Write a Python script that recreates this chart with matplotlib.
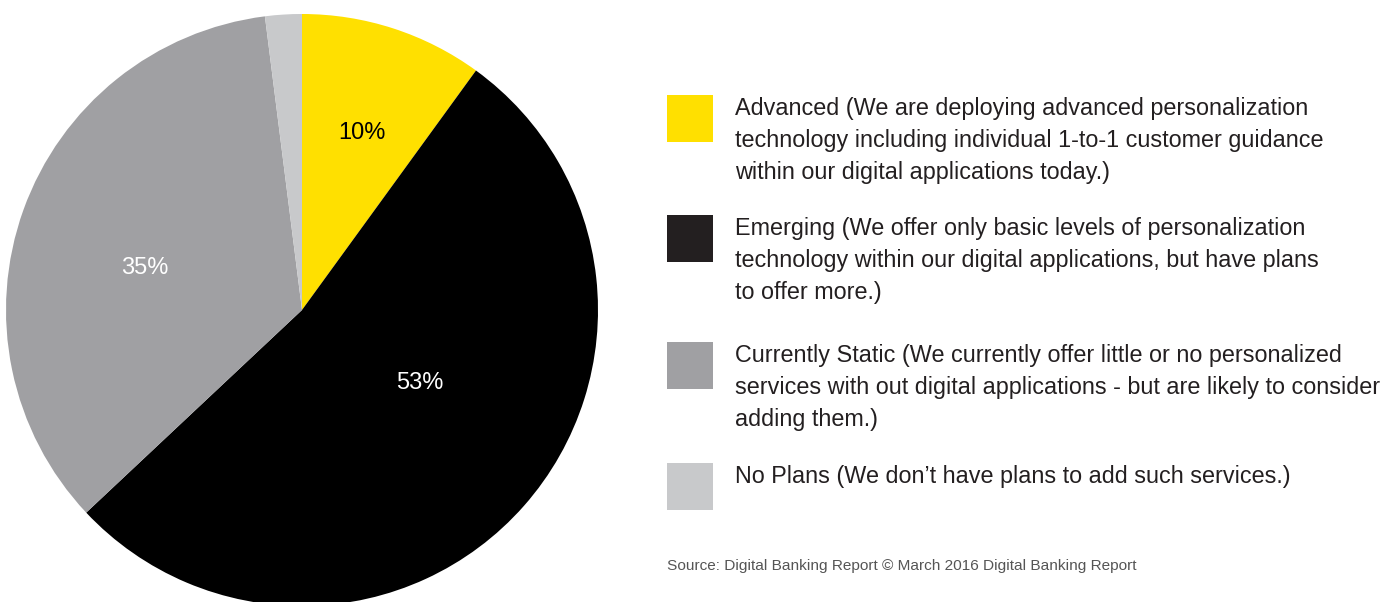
import matplotlib.pyplot as plt
from matplotlib.patches import Rectangle

# survey shares, in percent
categories = ["Advanced", "Emerging", "Currently Static", "No Plans"]
shares = [10, 53, 35, 2]
colors = ["#FFE000", "#000000", "#A0A0A3", "#C8C9CB"]
swatch_colors = ["#FFE000", "#231F20", "#A0A0A3", "#C8C9CB"]
legend_lines = [
    ["Advanced (We are deploying advanced personalization",
     "technology including individual 1-to-1 customer guidance",
     "within our digital applications today.)"],
    ["Emerging (We offer only basic levels of personalization",
     "technology within our digital applications, but have plans",
     "to offer more.)"],
    ["Currently Static (We currently offer little or no personalized",
     "services with out digital applications - but are likely to consider",
     "adding them.)"],
    ["No Plans (We don\u2019t have plans to add such services.)"],
]
source = "Source: Digital Banking Report \u00a9 March 2016 Digital Banking Report"

W, H = 1389, 602
plt.rcParams['font.family'] = ['Liberation Sans', 'DejaVu Sans']

fig = plt.figure(figsize=(W / 100, H / 100), dpi=100)
ax = fig.add_axes([0, 0, 1, 1])

# pie drawn in pixel space (y flipped, so counterclock=True runs clockwise on screen)
cx, cy, r = 302, 310, 296
ax.pie(shares, colors=colors, startangle=-90, counterclock=True,
       center=(cx, cy), radius=r, frame=True,
       wedgeprops=dict(linewidth=0))
ax.set_xlim(0, W)
ax.set_ylim(H, 0)
ax.axis("off")

# percentage labels
label_pos = [(362, 133, "#000000"), (420, 383, "#FFFFFF"), (145, 268, "#FFFFFF")]
for (x, y, c), v in zip(label_pos, shares):
    ax.text(x, y, f"{v}%", ha="center", va="center", fontsize=17, color=c)

# legend
swatch_top = [95, 215, 342, 463]
for top, col, lines in zip(swatch_top, swatch_colors, legend_lines):
    ax.add_patch(Rectangle((667, top), 46, 47, color=col, lw=0))
    for i, line in enumerate(lines):
        ax.text(735, top + 20 + i * 32, line, ha="left", va="baseline",
                fontsize=16.8, color="#231F20")

ax.text(667, 570, source, ha="left", va="baseline", fontsize=11.1, color="#555555")

fig.savefig("out.png", dpi=100)
